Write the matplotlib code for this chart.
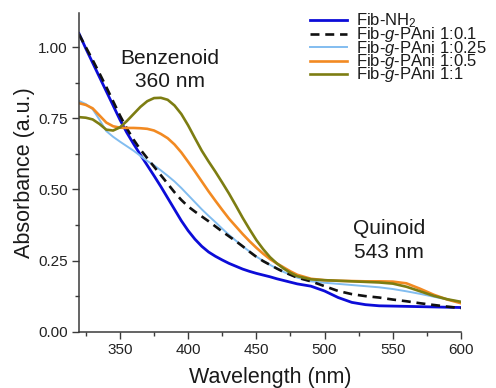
import matplotlib
matplotlib.use("Agg")
import matplotlib.pyplot as plt
from matplotlib.lines import Line2D
from matplotlib.ticker import MultipleLocator, FormatStrFormatter

plt.rcParams["font.family"] = ["Liberation Sans", "DejaVu Sans"]
plt.rcParams["mathtext.fontset"] = "custom"
plt.rcParams["mathtext.rm"] = "Liberation Sans"
plt.rcParams["mathtext.it"] = "Liberation Sans:italic"

# UV-vis spectra, wavelength in nm, absorbance in a.u.
wavelength = [320, 325, 330, 335, 340, 345, 350, 355, 360, 365, 370, 375, 380, 385,
              390, 395, 400, 405, 410, 415, 420, 425, 430, 435, 440, 445, 450, 455,
              460, 465, 470, 475, 480,
              490, 500, 510, 520, 530, 540, 550, 560, 570, 580, 590, 600]

fib_nh2 = [1.048, 0.995, 0.945, 0.895, 0.845, 0.795, 0.745, 0.700, 0.660, 0.622,
           0.585, 0.548, 0.510, 0.470, 0.430, 0.390, 0.355, 0.325, 0.300, 0.280,
           0.265, 0.252, 0.240, 0.230, 0.220, 0.212, 0.205, 0.199, 0.193, 0.186,
           0.180, 0.174, 0.168,
           0.160, 0.143, 0.120, 0.103, 0.095, 0.091, 0.090, 0.089, 0.088, 0.087,
           0.086, 0.085]
pani_0_1 = [1.045, 1.000, 0.955, 0.908, 0.860, 0.810, 0.760, 0.715, 0.675, 0.640,
            0.610, 0.580, 0.550, 0.520, 0.490, 0.463, 0.440, 0.422, 0.405, 0.388,
            0.370, 0.352, 0.335, 0.318, 0.300, 0.281, 0.263, 0.248, 0.235, 0.222,
            0.210, 0.200, 0.190,
            0.177, 0.160, 0.143, 0.132, 0.125, 0.120, 0.113, 0.107, 0.100, 0.094,
            0.088, 0.083]
pani_0_25 = [0.811, 0.800, 0.782, 0.745, 0.705, 0.685, 0.668, 0.652, 0.636, 0.618,
             0.600, 0.585, 0.567, 0.548, 0.528, 0.505, 0.480, 0.455, 0.430, 0.407,
             0.385, 0.362, 0.340, 0.320, 0.300, 0.282, 0.264, 0.249, 0.235, 0.222,
             0.210, 0.200, 0.190,
             0.177, 0.172, 0.168, 0.164, 0.160, 0.156, 0.150, 0.142, 0.133, 0.123,
             0.113, 0.105]
pani_0_5 = [0.803, 0.797, 0.785, 0.760, 0.735, 0.722, 0.717, 0.716, 0.716, 0.715,
            0.713, 0.707, 0.695, 0.680, 0.658, 0.630, 0.597, 0.563, 0.528, 0.493,
            0.460, 0.428, 0.397, 0.370, 0.343, 0.318, 0.295, 0.274, 0.255, 0.240,
            0.226, 0.212, 0.200,
            0.186, 0.181, 0.179, 0.178, 0.177, 0.177, 0.176, 0.170, 0.151, 0.130,
            0.113, 0.100]
pani_1 = [0.754, 0.752, 0.746, 0.730, 0.710, 0.707, 0.718, 0.740, 0.765, 0.790,
          0.810, 0.821, 0.822, 0.815, 0.795, 0.765, 0.725, 0.680, 0.636, 0.598,
          0.562, 0.524, 0.485, 0.443, 0.400, 0.360, 0.322, 0.290, 0.262, 0.240,
          0.222, 0.207, 0.195,
          0.184, 0.181, 0.179, 0.177, 0.175, 0.173, 0.169, 0.158, 0.142, 0.126,
          0.114, 0.105]

labels = ["Fib-NH$_2$",
          "Fib-$\\mathit{g}$-PAni 1:0.1",
          "Fib-$\\mathit{g}$-PAni 1:0.25",
          "Fib-$\\mathit{g}$-PAni 1:0.5",
          "Fib-$\\mathit{g}$-PAni 1:1"]

W, H = 496, 388
fig = plt.figure(figsize=(W / 100, H / 100), dpi=100)
ax = fig.add_axes([79 / W, 1 - 331.7 / H, 382 / W, 318.7 / H])

h_nh2, = ax.plot(wavelength, fib_nh2, color="#0c0cd8", lw=2.0)
h_025, = ax.plot(wavelength, pani_0_25, color="#82bdf0", lw=1.4)
h_01, = ax.plot(wavelength, pani_0_1, color="#111111", lw=1.9, dashes=(3.4, 2.2))
h_05, = ax.plot(wavelength, pani_0_5, color="#f28a22", lw=1.9)
h_1, = ax.plot(wavelength, pani_1, color="#7d7d12", lw=1.9)

ax.set_xlim(320, 600)
ax.set_ylim(0, 1.12)
ax.xaxis.set_major_locator(MultipleLocator(50))
ax.xaxis.set_minor_locator(MultipleLocator(25))
ax.yaxis.set_major_locator(MultipleLocator(0.25))
ax.yaxis.set_minor_locator(MultipleLocator(0.125))
ax.yaxis.set_major_formatter(FormatStrFormatter("%.2f"))

for side in ("top", "right"):
    ax.spines[side].set_visible(False)
for side in ("left", "bottom"):
    ax.spines[side].set_color("#3a3a3a")
    ax.spines[side].set_linewidth(1.1)
ax.tick_params(which="major", direction="out", length=4.7, width=1.0,
               color="#3a3a3a", labelsize=11, labelcolor="#222222")
ax.tick_params(which="minor", direction="out", length=2.6, width=1.0,
               color="#3a3a3a")

ax.set_xlabel("Wavelength (nm)", fontsize=15.5, color="#1a1a1a", labelpad=7)
ax.set_ylabel("Absorbance (a.u.)", fontsize=15.5, color="#1a1a1a", labelpad=2)

ax.text(386.5, 0.92, "Benzenoid\n360 nm", ha="center", va="center",
        fontsize=15, color="#1a1a1a", linespacing=1.3)
ax.text(547.5, 0.32, "Quinoid\n543 nm", ha="center", va="center",
        fontsize=15, color="#1a1a1a", linespacing=1.3)

# legend rows laid out in figure pixels: line sample, then label
handles = [h_nh2, h_01, h_025, h_05, h_1]
row_y = [20, 33.5, 47, 60.5, 74]
for h, lab, y in zip(handles, labels, row_y):
    fig.add_artist(Line2D([310 / W, 347 / W], [1 - y / H, 1 - y / H],
                          transform=fig.transFigure, color=h.get_color(),
                          lw=h.get_linewidth(), linestyle=h.get_linestyle(),
                          dashes=(3.4, 2.2) if h is h_01 else (None, None)))
    fig.text(356 / W, 1 - (y + 5.5) / H, lab, ha="left", va="baseline",
             fontsize=12, color="#1a1a1a")

fig.savefig("out.png", dpi=100, facecolor="white")
